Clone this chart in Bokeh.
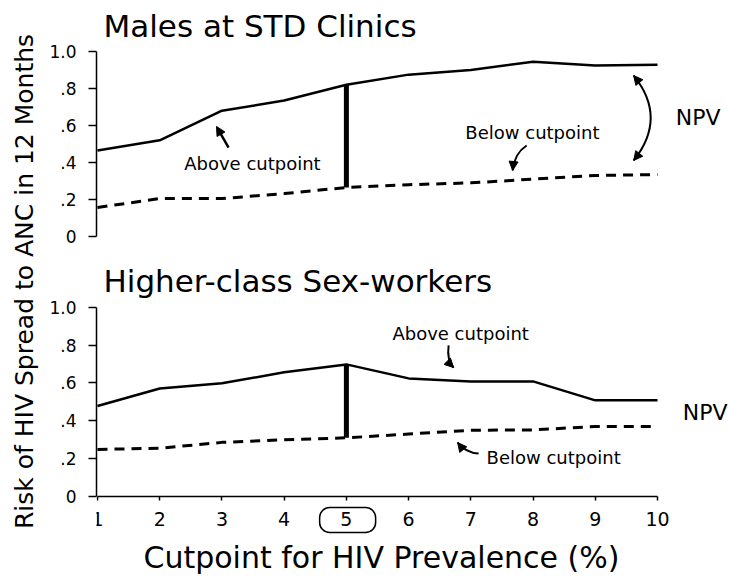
import math
from bokeh.plotting import figure
from bokeh.models import (FixedTicker, Label, Arrow, NormalHead, BoxAnnotation, Range1d)
from bokeh.layouts import row, column
from bokeh.embed import file_html
from bokeh.resources import INLINE

# ---------------- data ----------------
cutpoints = [1, 2, 3, 4, 5, 6, 7, 8, 9, 10]
males_above = [0.465, 0.52, 0.68, 0.735, 0.82, 0.875, 0.90, 0.945, 0.925, 0.928]
males_below = [0.157, 0.205, 0.205, 0.232, 0.265, 0.28, 0.29, 0.31, 0.33, 0.335]
sw_above = [0.478, 0.571, 0.598, 0.656, 0.698, 0.624, 0.608, 0.608, 0.508, 0.508]
sw_below = [0.249, 0.255, 0.286, 0.30, 0.31, 0.33, 0.35, 0.352, 0.37, 0.37]
y_ticks = [0, 0.2, 0.4, 0.6, 0.8, 1.0]
y_tick_labels = ["0", ".2", ".4", ".6", ".8", "1.0"]
chosen_cutpoint = 5
title_top = "Males at STD Clinics"
title_bottom = "Higher-class Sex-workers"
x_title = "Cutpoint for HIV Prevalence (%)"
y_title = "Risk of HIV Spread to ANC in 12 Months"

FONT = "DejaVu Sans"
X_RANGE = (0.984, 11.157)
FIG_W = 685


def style_yaxis(p):
    ax = p.yaxis[0]
    ax.ticker = FixedTicker(ticks=y_ticks)
    ax.major_label_overrides = {t: l for t, l in zip(y_ticks, y_tick_labels)}
    ax.bounds = (0, 1)
    ax.major_tick_out = 8
    ax.major_tick_in = 0
    ax.minor_tick_out = 0
    ax.minor_tick_in = 0
    ax.axis_line_width = 1.5
    ax.major_tick_line_width = 1.5
    ax.axis_line_color = "black"
    ax.major_tick_line_color = "black"
    ax.major_label_text_font = FONT
    ax.major_label_text_font_size = "17px"
    ax.major_label_text_color = "black"
    ax.major_label_standoff = 12


def make_fig(height, y_start, y_end, show_x):
    p = figure(width=FIG_W, height=height, output_backend="svg", toolbar_location=None,
               x_range=Range1d(*X_RANGE), y_range=Range1d(y_start, y_end),
               x_axis_location="below" if show_x else None,
               min_border_left=52, min_border_right=0, min_border_top=0,
               min_border_bottom=0,
               background_fill_color="white", border_fill_color="white",
               outline_line_color=None)
    p.grid.visible = False
    style_yaxis(p)
    return p


def lab(p, x, y, text, size="18px", align="center", baseline="middle"):
    p.add_layout(Label(x=x, y=y, text=text, text_font=FONT, text_font_size=size,
                       text_align=align, text_baseline=baseline, text_color="black"))


def head():
    return NormalHead(size=9, fill_color="black", line_color="black", line_width=1)


def curve_arrow(p, x0, y0, cx, cy, x1, y1, both=False):
    p.quadratic(x0=[x0], y0=[y0], cx=[cx], cy=[cy], x1=[x1], y1=[y1],
                line_color="black", line_width=2)
    p.add_layout(Arrow(end=head(), x_start=cx, y_start=cy, x_end=x1, y_end=y1, line_color=None))
    if both:
        p.add_layout(Arrow(end=head(), x_start=cx, y_start=cy, x_end=x0, y_end=y0, line_color=None))


def draw_series(p, above, below):
    p.line(cutpoints, above, line_color="black", line_width=2.5)
    p.line(cutpoints, below, line_color="black", line_width=3, line_dash="10 7")
    i = cutpoints.index(chosen_cutpoint)
    p.segment(x0=[cutpoints[i]], y0=[below[i]], x1=[cutpoints[i]], y1=[above[i]],
              line_color="black", line_width=5)


# ---------------- top panel ----------------
top = make_fig(256, -0.108, 1.2757, False)
draw_series(top, males_above, males_below)
lab(top, 1.096, 1.1405, title_top, size="31px", align="left")
lab(top, 3.49, 0.395, "Above cutpoint")
top.add_layout(Arrow(end=head(), x_start=3.106, y_start=0.481, x_end=2.913, y_end=0.595,
                     line_color="black", line_width=2.5))
lab(top, 7.99, 0.562, "Below cutpoint")
curve_arrow(top, 7.897, 0.492, 7.70, 0.45, 7.672, 0.357)
curve_arrow(top, 9.617, 0.870, 10.164, 0.643, 9.617, 0.411, both=True)
lab(top, 10.293, 0.643, "NPV", size="22px", align="left")

# ---------------- bottom panel ----------------
bot = make_fig(321, -0.4279, 1.268, True)
draw_series(bot, sw_above, sw_below)
xa = bot.xaxis[0]
xa.fixed_location = 0
xa.ticker = FixedTicker(ticks=cutpoints)
xa.bounds = (1, 10)
xa.major_tick_out = 4
xa.major_tick_in = 0
xa.minor_tick_out = 0
xa.minor_tick_in = 0
xa.axis_line_width = 1.5
xa.major_tick_line_width = 1.5
xa.major_label_text_font = FONT
xa.major_label_text_font_size = "19px"
xa.major_label_text_color = "black"
xa.major_label_standoff = 11

lab(bot, 5.564, -0.3222, x_title, size="30px", align="center")
lab(bot, 1.096, 1.141, title_bottom, size="31px", align="left")
lab(bot, 6.836, 0.861, "Above cutpoint")
curve_arrow(bot, 6.643, 0.798, 6.611, 0.718, 6.723, 0.681)
lab(bot, 8.331, 0.206, "Below cutpoint")
curve_arrow(bot, 7.125, 0.227, 6.916, 0.232, 6.788, 0.285)
lab(bot, 10.405, 0.444, "NPV", size="22px", align="left")
bot.add_layout(BoxAnnotation(left=chosen_cutpoint - 0.43, right=chosen_cutpoint + 0.47,
                             bottom=-0.190, top=-0.058, fill_color=None, fill_alpha=0,
                             line_color="black", line_alpha=1.0, line_width=1.5,
                             border_radius=10))

# ---------------- y-axis title strip ----------------
yl = figure(width=44, height=577, output_backend="svg", toolbar_location=None,
            x_range=Range1d(0, 44), y_range=Range1d(0, 577),
            x_axis_location=None, y_axis_location=None,
            min_border=0, outline_line_color=None,
            background_fill_color="white", border_fill_color="white")
yl.grid.visible = False
yl.add_layout(Label(x=24, y=296, text=y_title, angle=math.pi / 2, angle_units="rad",
                    text_font=FONT, text_font_size="25px", text_align="center",
                    text_baseline="middle", text_color="black"))

layout = row(yl, column(top, bot))
open("out.html", "w").write(file_html(layout, INLINE))
